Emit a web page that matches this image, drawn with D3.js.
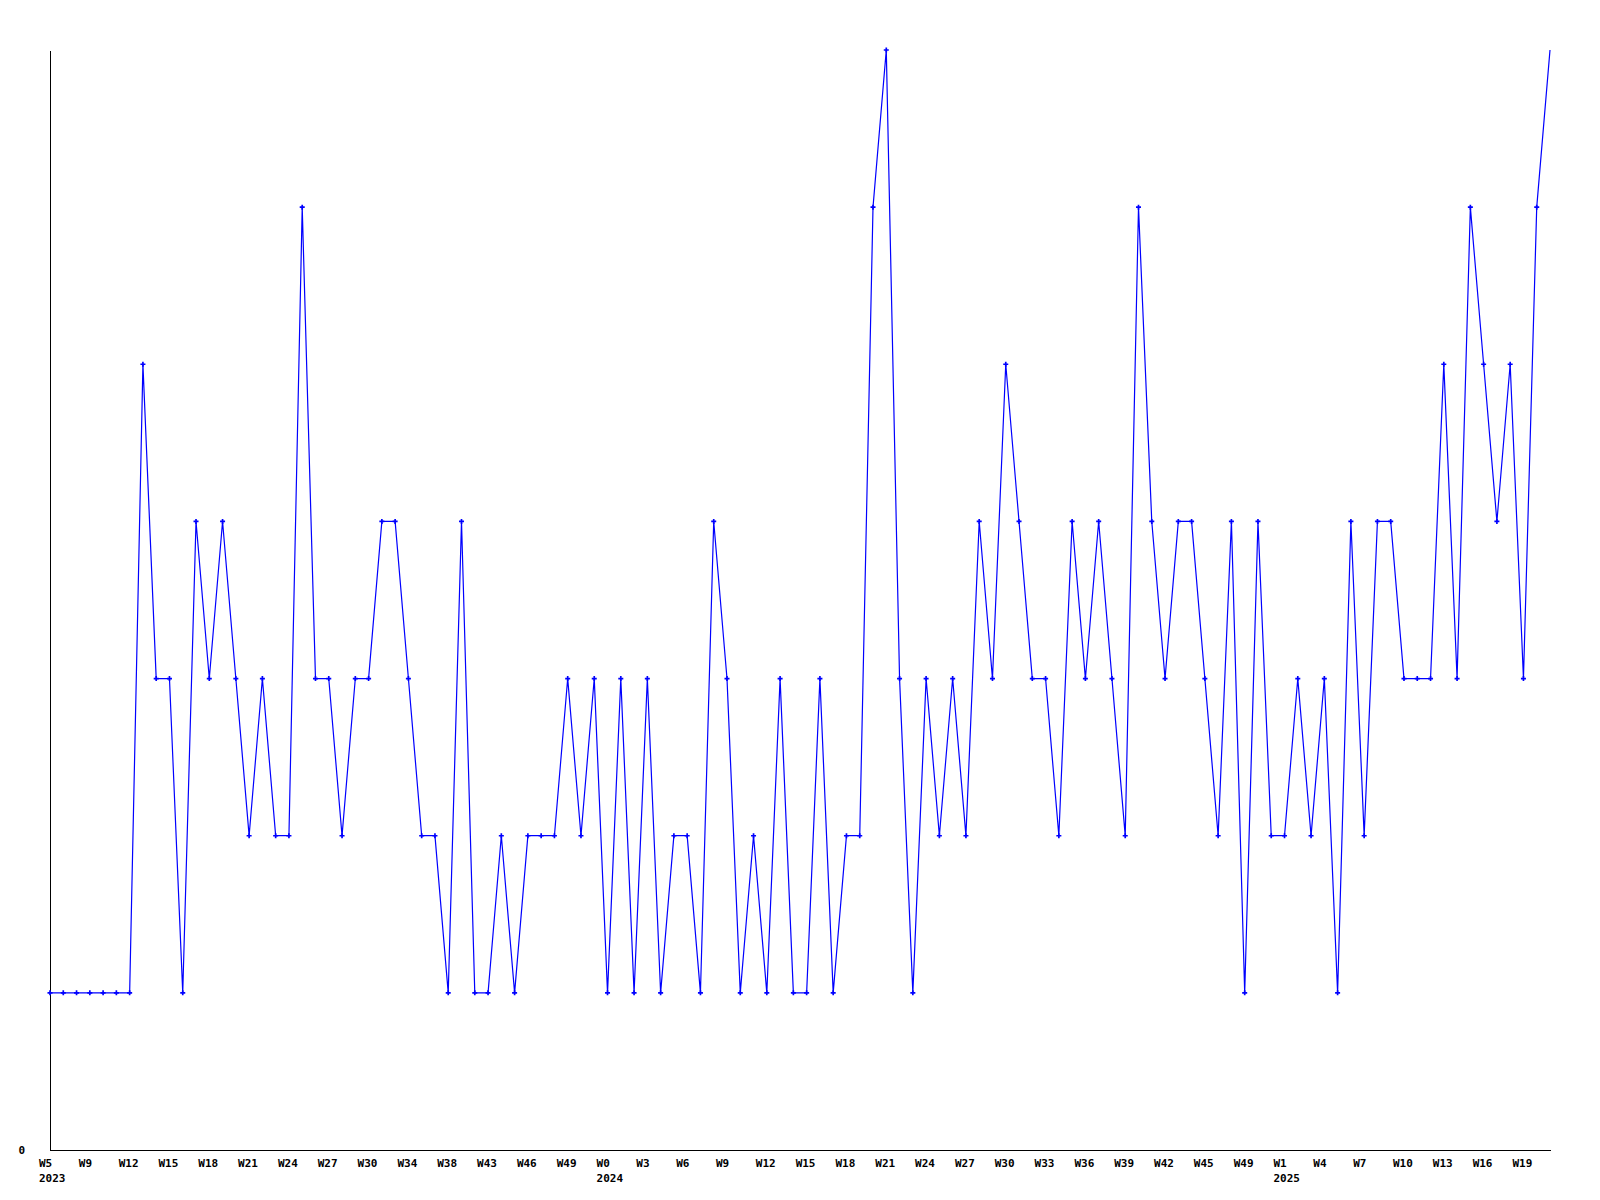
<!DOCTYPE html>
<html>
<head>
<meta charset="utf-8">
<script src="https://cdn.jsdelivr.net/npm/d3@7"></script>
<style>
  html, body { margin: 0; padding: 0; background: #ffffff; }
  svg { display: block; }
  .lbl { font-family: "DejaVu Sans Mono", "Liberation Mono", monospace; font-weight: bold; font-size: 11px; fill: #000; }
</style>
</head>
<body>
<svg id="chart" width="1600" height="1200"></svg>
<script>
// ---- data ----
const years = [
  "2023","2023","2023","2023","2023","2023","2023","2023","2023","2023",
  "2023","2023","2023","2023","2023","2023","2023","2023","2023","2023",
  "2023","2023","2023","2023","2023","2023","2023","2023","2023","2023",
  "2023","2023","2023","2023","2023","2023","2023","2023","2023","2023",
  "2023","2023",
  "2024","2024","2024","2024","2024","2024","2024","2024","2024","2024",
  "2024","2024","2024","2024","2024","2024","2024","2024","2024","2024",
  "2024","2024","2024","2024","2024","2024","2024","2024","2024","2024",
  "2024","2024","2024","2024","2024","2024","2024","2024","2024","2024",
  "2024","2024","2024","2024","2024","2024","2024","2024","2024","2024",
  "2024",
  "2025","2025","2025","2025","2025","2025","2025","2025","2025","2025",
  "2025","2025","2025","2025","2025","2025","2025","2025","2025","2025",
  "2025"
];
const weeks = [
  "W5","W6","W7","W9","W10","W11","W12","W13","W14","W15",
  "W16","W17","W18","W19","W20","W21","W22","W23","W24","W25",
  "W26","W27","W28","W29","W30","W31","W32","W34","W35","W36",
  "W38","W39","W41","W43","W44","W45","W46","W47","W48","W49",
  "W50","W51",
  "W0","W1","W2","W3","W4","W5","W6","W7","W8","W9",
  "W10","W11","W12","W13","W14","W15","W16","W17","W18","W19",
  "W20","W21","W22","W23","W24","W25","W26","W27","W28","W29",
  "W30","W31","W32","W33","W34","W35","W36","W37","W38","W39",
  "W40","W41","W42","W43","W44","W45","W46","W47","W49","W50",
  "W51",
  "W1","W2","W3","W4","W5","W6","W7","W8","W9","W10",
  "W11","W12","W13","W14","W15","W16","W17","W18","W19","W20",
  "W21"
];
const values = [
  1,1,1,1,1,1,1,5,3,3,
  1,4,3,4,3,2,3,2,2,6,
  3,3,2,3,3,4,4,3,2,2,
  1,4,1,1,2,1,2,2,2,3,
  2,3,1,3,1,3,1,2,2,1,
  4,3,1,2,1,3,1,1,3,1,
  2,2,6,7,3,1,3,2,3,2,
  4,3,5,4,3,3,2,4,3,4,
  3,2,6,4,3,4,4,3,2,4,
  1,4,2,2,3,2,3,1,4,2,
  4,4,3,3,3,5,3,6,5,4,
  5,3,6,7
];
const tickEvery = 3;
const yTickValues = [0];
const yMax = 7;

// ---- layout ----
const mLeft = 50, mRight = 1550, mTop = 50, mBottom = 1150;
const keys = weeks.map((w, i) => years[i] + "-" + w + "-" + i);
const data = values.map((v, i) => ({ key: keys[i], week: weeks[i], year: years[i], value: v, i }));

const x = d3.scalePoint().domain(keys).range([mLeft, mRight]);
const y = d3.scaleLinear().domain([0, yMax]).range([mBottom, mTop]);

const svg = d3.select("#chart");

// axes
const xTicks = keys.filter((k, i) => i % tickEvery === 0);
const xAxis = d3.axisBottom(x).tickValues(xTicks).tickSize(0).tickSizeOuter(0).tickFormat(() => "");
const gx = svg.append("g").attr("transform", `translate(0,${mBottom})`).call(xAxis);
gx.select(".domain").attr("stroke", "#000").attr("stroke-width", 1).attr("shape-rendering", "crispEdges");

const yAxis = d3.axisLeft(y).tickValues(yTickValues).tickSize(0).tickSizeOuter(0).tickFormat(() => "");
const gy = svg.append("g").attr("transform", `translate(${mLeft},0)`).call(yAxis);
gy.select(".domain").attr("stroke", "#000").attr("stroke-width", 1).attr("shape-rendering", "crispEdges");

// y tick labels
svg.append("g").selectAll("text").data(yTickValues).join("text")
  .attr("class", "lbl")
  .attr("x", 25)
  .attr("y", d => y(d) + 4)
  .attr("text-anchor", "end")
  .text(d => d);

// x tick labels
const tickData = data.filter(d => d.i % tickEvery === 0);
svg.append("g").selectAll("text").data(tickData).join("text")
  .attr("class", "lbl")
  .attr("x", d => x(d.key) - 11)
  .attr("y", mBottom + 17)
  .text(d => d.week);

// year labels at first point of each year
const yearStarts = data.filter((d, i) => i === 0 || d.year !== data[i - 1].year);
svg.append("g").selectAll("text").data(yearStarts).join("text")
  .attr("class", "lbl")
  .attr("x", d => x(d.key) - 11)
  .attr("y", mBottom + 32)
  .text(d => d.year);

// line
const line = d3.line().x(d => x(d.key)).y(d => y(d.value));
svg.append("path")
  .datum(data)
  .attr("fill", "none")
  .attr("stroke", "#0000ff")
  .attr("stroke-width", 1.2)
  .attr("d", line);

// markers (last point sits on the clipped edge)
const sym = d3.symbol().type(d3.symbolCross).size(14);
svg.append("g").selectAll("path").data(data.slice(0, -1)).join("path")
  .attr("transform", d => `translate(${x(d.key)},${y(d.value)})`)
  .attr("d", sym)
  .attr("fill", "#0000ff");
</script>
</body>
</html>
